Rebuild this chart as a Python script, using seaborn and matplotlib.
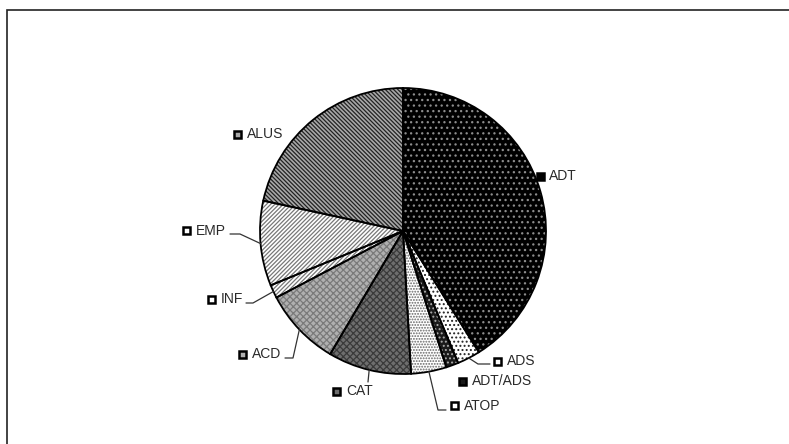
"""Pie chart of case categories, Excel-style hatched slices with keyed labels."""

import numpy as np
import matplotlib
matplotlib.use("Agg")
import matplotlib.pyplot as plt
from matplotlib.patches import Rectangle
import seaborn as sns

# data (percent shares, clockwise from 12 o'clock)
categories = ["ADT", "ADS", "ADT/ADS", "ATOP", "CAT", "ACD", "INF", "EMP", "ALUS"]
shares = [41.1, 2.6, 1.4, 4.0, 9.4, 8.8, 1.5, 9.6, 21.6]

# slice styling: face colour, hatch, hatch colour
faces = ["#000000", "#ffffff", "#1a1a1a", "#ffffff", "#6e6e6e", "#b0b0b0", "#ffffff", "#ffffff", "#a8a8a8"]
hatches = ["...", "....", "....", "......", "xxxxx", "xxxxx", "////////", "////////", "\\\\\\\\\\\\\\\\"]
hatch_cols = ["#8c8c8c", "#222222", "#aaaaaa", "#666666", "#3a3a3a", "#7a7a7a", "#777777", "#777777", "#222222"]

# layout in pixels (pie centre / radius, key square centres, leader elbows)
CX, CY, R = 403, 231, 143
W, H = 789, 444
key_pos = {
    "ADT": (540, 176), "ADS": (498, 361), "ADT/ADS": (463, 381), "ATOP": (455, 406),
    "CAT": (337, 391), "ACD": (243, 354), "INF": (212, 299), "EMP": (187, 231),
    "ALUS": (238, 134),
}
leaders = {
    "ADS": [(478, 364), (490, 364)],
    "ATOP": [(438, 410), (446, 410)],
    "CAT": [(368, 382)],
    "ACD": [(293, 358), (285, 358)],
    "INF": [(253, 303), (246, 303)],
    "EMP": [(240, 234), (230, 234)],
}


def px(x, y):
    return (x - CX) / R, (CY - y) / R


def main() -> None:
    sns.set_theme(style="white")
    plt.rcParams["font.family"] = ["Liberation Sans", "DejaVu Sans"]
    plt.rcParams["hatch.linewidth"] = 0.9

    fig = plt.figure(figsize=(W / 100, H / 100), dpi=100)
    fig.patch.set_facecolor("white")
    ax = fig.add_axes([0, 0, 1, 1])

    wedges, _ = ax.pie(shares, startangle=90, counterclock=False, radius=1,
                       wedgeprops=dict(linewidth=0))
    for w, fc, ht, hc in zip(wedges, faces, hatches, hatch_cols):
        w.set_facecolor(fc)
        w.set_hatch(ht)
        w.set_edgecolor(hc)
        w.set_linewidth(0)

    # outlines on top
    ax.pie(shares, startangle=90, counterclock=False, radius=1,
           wedgeprops=dict(facecolor="none", edgecolor="black", linewidth=1.3))

    # pie() resets limits, so set them afterwards
    ax.set_aspect("auto")
    ax.set_xlim(-CX / R, (W - CX) / R)
    ax.set_ylim((CY - H) / R, CY / R)
    ax.axis("off")

    for w, name, fc in zip(wedges, categories, faces):
        kx, ky = px(*key_pos[name])
        sq = 7 / R
        ax.add_patch(Rectangle((kx - sq / 2, ky - sq / 2), sq, sq, facecolor=fc,
                               edgecolor="black", linewidth=1.8, clip_on=False))
        ax.text(kx + 9 / R, ky, name, fontsize=10, color="#2a2a2a", va="center", ha="left")
        if name in leaders:
            mid = np.deg2rad((w.theta1 + w.theta2) / 2)
            pts = [(np.cos(mid), np.sin(mid))] + [px(*p) for p in leaders[name]]
            xs, ys = zip(*pts)
            ax.plot(xs, ys, color="#333333", linewidth=0.9, clip_on=False)

    fig.patches.append(Rectangle((7 / W, -0.1), 1.2, 1 - 10 / H + 0.1, transform=fig.transFigure,
                                 facecolor="none", edgecolor="#222222", linewidth=1.2))

    fig.savefig("out.png", dpi=100)
    plt.close(fig)


if __name__ == "__main__":
    main()
